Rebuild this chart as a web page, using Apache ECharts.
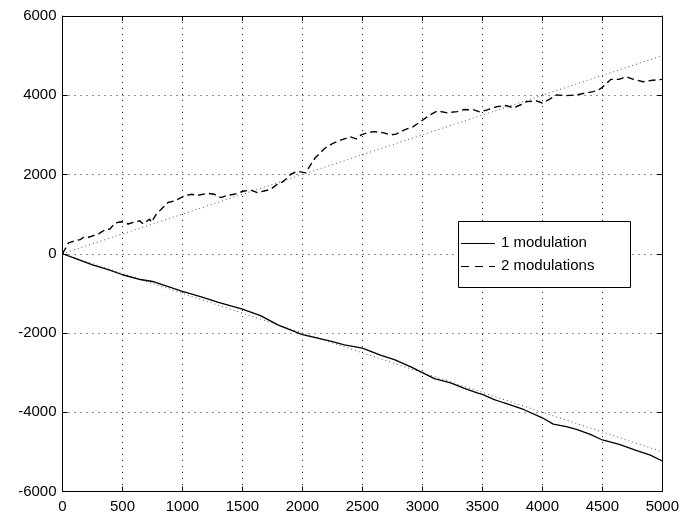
<!DOCTYPE html>
<html>
<head>
<meta charset="utf-8">
<script src="https://cdn.jsdelivr.net/npm/echarts@6/dist/echarts.min.js"></script>
<style>html,body{margin:0;padding:0;background:#fff;}#c{width:682px;height:516px;}</style>
</head>
<body>
<div id="c"></div>
<script>
const xTicks = [0, 500, 1000, 1500, 2000, 2500, 3000, 3500, 4000, 4500, 5000];
const yTicks = [-6000, -4000, -2000, 0, 2000, 4000, 6000];

const seriesNames = ['1 modulation', '2 modulations'];

const solidX = [0, 100, 250, 400, 500, 650, 750, 900, 1000, 1150, 1300, 1500, 1650, 1800, 2000, 2100, 2242, 2350, 2500, 2650, 2766, 2900, 3000, 3100, 3235, 3350, 3456, 3500, 3600, 3677, 3843, 4000, 4091, 4200, 4284, 4400, 4500, 4642, 4781, 4900, 5000];
const solidY = [0, -110, -280, -420, -530, -650, -700, -850, -950, -1080, -1230, -1400, -1560, -1800, -2040, -2110, -2210, -2300, -2380, -2560, -2670, -2850, -3000, -3150, -3260, -3400, -3510, -3550, -3680, -3760, -3930, -4140, -4300, -4360, -4430, -4560, -4700, -4810, -4960, -5080, -5230];

const dashX = [0, 23, 50, 106, 148, 176, 217, 258, 300, 355, 396, 437, 492, 548, 589, 644, 672, 727, 741, 782, 823, 879, 934, 1017, 1072, 1127, 1210, 1265, 1320, 1375, 1431, 1514, 1569, 1624, 1679, 1734, 1790, 1845, 1900, 1955, 2025, 2104, 2187, 2250, 2324, 2400, 2450, 2490, 2550, 2600, 2680, 2736, 2780, 2850, 2920, 2985, 3050, 3125, 3200, 3290, 3350, 3429, 3480, 3539, 3622, 3700, 3760, 3820, 3870, 3950, 4000, 4060, 4118, 4200, 4284, 4350, 4422, 4460, 4500, 4570, 4640, 4698, 4760, 4838, 4920, 5000];
const dashY = [0, 125, 275, 333, 358, 417, 417, 458, 500, 608, 625, 775, 808, 750, 792, 833, 750, 875, 792, 1000, 1125, 1292, 1333, 1458, 1500, 1475, 1525, 1500, 1417, 1475, 1500, 1583, 1608, 1542, 1583, 1625, 1750, 1833, 2000, 2083, 2042, 2410, 2663, 2780, 2873, 2950, 2900, 3000, 3060, 3082, 3050, 3000, 3020, 3125, 3200, 3334, 3480, 3604, 3560, 3586, 3640, 3630, 3580, 3630, 3712, 3740, 3680, 3760, 3838, 3860, 3805, 3900, 4007, 3990, 4007, 4050, 4090, 4120, 4200, 4400, 4400, 4468, 4400, 4342, 4380, 4400];

const refX = [0, 5000];
const refDownY = [0, -5000];
const refUpY = [0, 5000];

function pairs(xs, ys) { return xs.map((x, i) => [x, ys[i]]); }

const FONT = '"Liberation Sans", Arial, Helvetica, sans-serif';
const chart = echarts.init(document.getElementById('c'), null, {renderer: 'canvas'});

const axisCommon = {
  type: 'value',
  axisLine: {show: true, onZero: false, lineStyle: {color: '#000', width: 1}},
  axisTick: {show: true, inside: true, length: 5, lineStyle: {color: '#000', width: 1}},
  axisLabel: {color: '#000', fontSize: 15, fontFamily: FONT, formatter: v => String(v)},
};

const option = {
  backgroundColor: '#fff',
  animation: false,
  grid: {left: 62.5, right: 15.5, top: 16, bottom: 24.5, show: false},
  xAxis: [
    Object.assign({}, axisCommon, {
      min: xTicks[0], max: xTicks[xTicks.length - 1], interval: 500, position: 'bottom',
      axisLabel: Object.assign({}, axisCommon.axisLabel, {margin: 8}),
      splitLine: {show: true, lineStyle: {color: '#222', width: 1, type: [1, 5]}}
    }),
    Object.assign({}, axisCommon, {
      min: xTicks[0], max: xTicks[xTicks.length - 1], interval: 500, position: 'top',
      axisLabel: {show: false}, splitLine: {show: false}
    })
  ],
  yAxis: [
    Object.assign({}, axisCommon, {
      min: yTicks[0], max: yTicks[yTicks.length - 1], interval: 2000, position: 'left',
      axisLabel: Object.assign({}, axisCommon.axisLabel, {margin: 6}),
      splitLine: {show: true, lineStyle: {color: '#222', width: 1, type: [1, 5]}}
    }),
    Object.assign({}, axisCommon, {
      min: yTicks[0], max: yTicks[yTicks.length - 1], interval: 2000, position: 'right',
      axisLabel: {show: false}, splitLine: {show: false}
    })
  ],
  series: [
    {
      name: 'ref-down', type: 'line', data: pairs(refX, refDownY), showSymbol: false, symbol: 'none',
      lineStyle: {color: '#555', width: 1, type: [1, 3]}, silent: true
    },
    {
      name: 'ref-up', type: 'line', data: pairs(refX, refUpY), showSymbol: false, symbol: 'none',
      lineStyle: {color: '#555', width: 1, type: [1, 3]}, silent: true
    },
    {
      name: seriesNames[0], type: 'line', data: pairs(solidX, solidY), showSymbol: false, symbol: 'none',
      lineStyle: {color: '#000', width: 1.3, type: 'solid'}
    },
    {
      name: seriesNames[1], type: 'line', data: pairs(dashX, dashY), showSymbol: false, symbol: 'none',
      lineStyle: {color: '#000', width: 1.4, type: [7, 4]}
    }
  ],
  graphic: [
    {type: 'rect', shape: {x: 458.5, y: 221.5, width: 172, height: 66}, style: {fill: '#fff', stroke: '#000', lineWidth: 1}, z: 100},
    {type: 'line', shape: {x1: 461, y1: 243.5, x2: 495, y2: 243.5}, style: {stroke: '#000', lineWidth: 1.2}, z: 101},
    {type: 'line', shape: {x1: 461, y1: 266.5, x2: 495, y2: 266.5}, style: {stroke: '#000', lineWidth: 1.2, lineDash: [8, 6]}, z: 101},
    {type: 'text', x: 501, y: 243, style: {text: seriesNames[0], font: '15px ' + FONT, fill: '#000', textVerticalAlign: 'middle', verticalAlign: 'middle'}, z: 101},
    {type: 'text', x: 501, y: 266, style: {text: seriesNames[1], font: '15px ' + FONT, fill: '#000', textVerticalAlign: 'middle', verticalAlign: 'middle'}, z: 101}
  ]
};
chart.setOption(option);
</script>
</body>
</html>
